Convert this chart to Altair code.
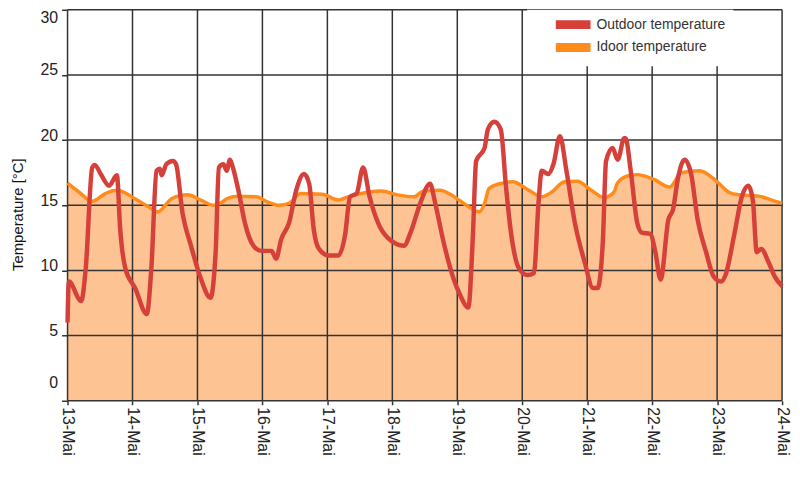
import altair as alt
import pandas as pd

# ---- data ----
series_names = ["Outdoor temperature", "Idoor temperature"]
day_ticks = list(range(13, 25))
temp_ticks = [0, 5, 10, 15, 20, 25, 30]

out_day = [13.0, 13.02, 13.21, 13.28, 13.38, 13.42, 13.51, 13.64, 13.76, 13.81,
           13.89, 14.04, 14.22, 14.29, 14.37, 14.42, 14.45, 14.52, 14.62, 14.67,
           14.77, 14.90, 15.05, 15.20, 15.28, 15.33, 15.40, 15.45, 15.50, 15.53,
           15.63, 15.73, 15.86, 15.98, 16.14, 16.21, 16.29, 16.41, 16.52, 16.64,
           16.72, 16.79, 16.87, 17.02, 17.17, 17.27, 17.35, 17.45, 17.55, 17.65,
           17.78, 17.93, 18.18, 18.28, 18.43, 18.58, 18.66, 18.79, 18.94, 19.04,
           19.17, 19.24, 19.29, 19.42, 19.47, 19.57, 19.67, 19.75, 19.82, 19.95,
           20.08, 20.18, 20.25, 20.30, 20.40, 20.48, 20.58, 20.68, 20.81, 20.96,
           21.09, 21.16, 21.24, 21.29, 21.39, 21.47, 21.57, 21.59, 21.67, 21.77,
           21.84, 21.97, 22.05, 22.13, 22.25, 22.32, 22.40, 22.50, 22.60, 22.70,
           22.83, 22.95, 23.06, 23.13, 23.26, 23.38, 23.48, 23.55, 23.61, 23.68,
           23.79, 23.89, 24.0]
out_temp = [6.0, 9.15, 7.65, 10.15, 17.9, 18.1, 17.4, 16.5, 17.3, 13.2,
            10.15, 8.65, 6.65, 10.15, 17.65, 17.8, 17.3, 18.15, 18.4, 18.15,
            14.4, 11.9, 9.4, 7.9, 11.4, 17.9, 18.15, 17.65, 18.5, 18.15,
            16.15, 13.65, 11.9, 11.5, 11.5, 10.9, 12.4, 13.65, 16.15, 17.4,
            16.65, 13.15, 11.65, 11.15, 11.15, 12.65, 15.65, 15.9, 17.9, 15.65,
            13.65, 12.5, 11.9, 12.9, 15.15, 16.65, 15.15, 12.15, 9.4, 8.15,
            7.15, 12.65, 18.4, 19.4, 20.8, 21.4, 20.8, 16.4, 13.15, 10.15,
            9.65, 9.8, 15.15, 17.65, 17.4, 18.15, 20.3, 17.65, 13.65, 10.65,
            8.65, 8.65, 12.15, 18.4, 19.4, 18.5, 20.15, 20.15, 17.65, 13.65,
            12.9, 12.8, 11.4, 9.3, 13.9, 14.65, 17.15, 18.5, 17.4, 13.9,
            11.4, 9.5, 9.15, 9.65, 12.65, 15.65, 16.5, 15.4, 11.4, 11.65,
            10.65, 9.5, 8.8]

in_day = [13.0, 13.18, 13.38, 13.58, 13.76, 14.04, 14.24, 14.39, 14.49, 14.6,
          14.85, 15.05, 15.25, 15.35, 15.45, 15.61, 15.91, 16.06, 16.26, 16.41,
          16.59, 16.92, 17.17, 17.32, 17.62, 17.83, 18.08, 18.33, 18.48, 18.73,
          18.94, 19.14, 19.34, 19.42, 19.49, 19.65, 19.85, 20.1, 20.3, 20.45,
          20.65, 20.85, 21.06, 21.26, 21.41, 21.46, 21.52, 21.67, 21.77, 22.02,
          22.27, 22.45, 22.73, 22.98, 23.18, 23.33, 23.64, 23.84, 24.0]
in_temp = [16.7, 16.0, 15.3, 15.9, 16.15, 15.5, 14.9, 14.5, 14.9, 15.5,
           15.8, 15.4, 15.0, 15.15, 15.5, 15.7, 15.65, 15.3, 15.0, 15.15,
           15.9, 15.85, 15.4, 15.65, 16.0, 16.1, 15.8, 15.65, 16.1, 16.15,
           15.7, 15.0, 14.5, 15.15, 16.3, 16.65, 16.8, 16.15, 15.65, 16.0,
           16.8, 16.85, 16.15, 15.6, 16.0, 16.65, 17.0, 17.3, 17.35, 17.0,
           16.4, 17.5, 17.65, 16.9, 16.0, 15.8, 15.7, 15.4, 15.15]

RED = "#D6403A"
ORANGE = "#FF8C1A"
FILL = "#FDC393"
GRID = "#333333"
FONT = "Liberation Sans"
RECT = "M-3.5,-0.9H3.5V0.9H-3.5Z"

outdoor = pd.DataFrame({"day": out_day, "temp": out_temp, "series": series_names[0]})
indoor = pd.DataFrame({"day": in_day, "temp": in_temp, "series": series_names[1]})
vgrid_df = pd.DataFrame({"day": day_ticks})
hgrid_df = pd.DataFrame({"temp": temp_ticks})

x_scale = alt.Scale(domain=[13, 24], nice=False, zero=False)
y_scale = alt.Scale(domain=[0, 30], nice=False)

x_axis = alt.Axis(values=day_ticks, labelExpr="datum.value + '-Mai'", labelAngle=90,
                  grid=False, domain=False, tickSize=4, tickColor=GRID, tickWidth=1.5,
                  labelPadding=2, labelFontSize=16, labelFont=FONT, labelColor="#222222",
                  labelOverlap=False, labelBound=False, title=None)
y_axis = alt.Axis(values=temp_ticks, grid=False, domain=False, tickSize=6, tickColor=GRID,
                  tickWidth=1.5, labelPadding=4, labelFontSize=16, labelFont=FONT,
                  labelColor="#222222", labelOffset=-5, labelFlush=True,
                  labelFlushOffset=-5,
                  title="Temperature [°C]", titleFont=FONT,
                  titleFontSize=15, titleFontWeight="normal", titleColor="#111111",
                  titleX=-50, titleY=206, titleAlign="center", titleBaseline="middle")

legend_out = alt.Legend(orient="none", legendX=463, legendY=0, fillColor="white", padding=8,
                        symbolType=RECT, symbolSize=100, symbolStrokeWidth=0,
                        symbolFillColor=RED, symbolStrokeColor=RED, symbolOpacity=1,
                        symbolOffset=31.5, labelOffset=16.5, labelFontSize=14,
                        labelFont=FONT, labelColor="#333333", title=None, zindex=2)
legend_in = alt.Legend(orient="none", legendX=463, legendY=19, fillColor="white", padding=12,
                       symbolType=RECT, symbolSize=100, symbolStrokeWidth=0,
                       symbolFillColor=ORANGE, symbolStrokeColor=ORANGE, symbolOpacity=1,
                       symbolOffset=27.5, labelOffset=16.5, labelFontSize=14,
                       labelFont=FONT, labelColor="#333333", title=None, zindex=1)

area = alt.Chart(indoor).mark_area(color=FILL, interpolate="monotone").encode(
    x=alt.X("day:Q", scale=x_scale, axis=x_axis),
    y=alt.Y("temp:Q", scale=y_scale, axis=y_axis),
)
vgrid = alt.Chart(vgrid_df).mark_rule(color=GRID, strokeWidth=1.5).encode(
    x=alt.X("day:Q", scale=x_scale))
hgrid = alt.Chart(hgrid_df).mark_rule(color=GRID, strokeWidth=1.5).encode(
    y=alt.Y("temp:Q", scale=y_scale))
indoor_line = alt.Chart(indoor).mark_line(strokeWidth=3.5, interpolate="monotone").encode(
    x=alt.X("day:Q", scale=x_scale),
    y=alt.Y("temp:Q", scale=y_scale),
    stroke=alt.Stroke("series:N", scale=alt.Scale(domain=[series_names[1]], range=[ORANGE]),
                      legend=legend_in),
)
outdoor_line = alt.Chart(outdoor).mark_line(strokeWidth=4.5, interpolate="monotone").encode(
    x=alt.X("day:Q", scale=x_scale),
    y=alt.Y("temp:Q", scale=y_scale),
    color=alt.Color("series:N", scale=alt.Scale(domain=[series_names[0]], range=[RED]),
                    legend=legend_out),
)

chart = alt.layer(area, vgrid, hgrid, indoor_line, outdoor_line).properties(
    width=720, height=394,
    autosize=alt.AutoSizeParams(type="none"),
    padding={"left": 60, "top": 0, "right": 10, "bottom": 70},
    background="white",
).configure_view(stroke=None)

chart.save("out.html", embed_options={"renderer": "svg", "actions": False})
